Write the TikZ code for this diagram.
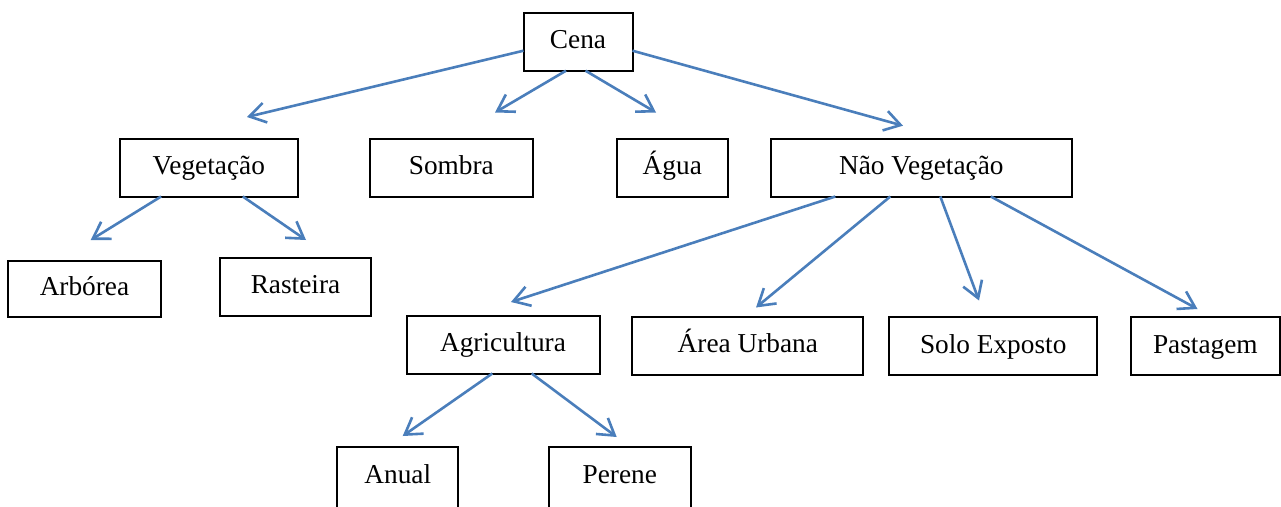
\documentclass[tikz,border=0pt]{standalone}
\usepackage{fontspec}
\setmainfont{Liberation Serif}
\usetikzlibrary{arrows.meta}
\definecolor{arrowblue}{RGB}{74,126,187}
\begin{document}
\begin{tikzpicture}[x=1pt,y=-1pt,
  box/.style={draw=black, line width=2pt, inner sep=0pt, outer sep=0pt, minimum height=58pt,
    text height=20pt, text depth=6pt, font=\fontsize{27.3}{31}\selectfont},
  cutbox/.style={box, minimum height=70pt, text depth=18pt},
  link/.style={draw=arrowblue, line width=2.6pt, -{Straight Barb[length=16pt,width=20pt]}}]
\clip (0,0) rectangle (1281,506);
% nodes
\node[box, minimum width=109pt] (cena) at (578,41.7) {Cena};
\node[box, minimum width=178pt] (veg) at (208.8,167.5) {Vegetação};
\node[box, minimum width=163pt] (sombra) at (451.3,167.5) {Sombra};
\node[box, minimum width=111pt] (agua) at (672.3,167.5) {Água};
\node[box, minimum width=301pt] (nveg) at (921.3,167.5) {Não Vegetação};
\node[box, minimum width=153pt, minimum height=56pt] (arb) at (84.5,288.8) {Arbórea};
\node[box, minimum width=151pt] (ras) at (295.5,286.8) {Rasteira};
\node[box, minimum width=193pt] (agri) at (503,344.5) {Agricultura};
\node[box, minimum width=231pt] (urb) at (747.8,345.7) {Área Urbana};
\node[box, minimum width=208pt] (solo) at (993.2,346) {Solo Exposto};
\node[box, minimum width=149pt] (past) at (1205.3,346) {Pastagem};
\node[cutbox, minimum width=121pt] (anual) at (397.8,482) {Anual};
\node[cutbox, minimum width=142pt] (perene) at (619.8,482) {Perene};
% arrow tips (free ends)
\coordinate (tveg) at (247,117);
\coordinate (tsombra) at (495,112.5);
\coordinate (tagua) at (656,112.5);
\coordinate (tnveg) at (903,125.7);
\coordinate (tarb) at (90.7,240);
\coordinate (tras) at (306,240);
\coordinate (tagri) at (511,302);
\coordinate (turb) at (756,307.5);
\coordinate (tsolo) at (979,300.5);
\coordinate (tpast) at (1197.5,309);
\coordinate (tanual) at (402.7,436);
\coordinate (tperene) at (616.7,437);
% connectors
\draw[link] ([yshift=-9pt]cena.west) -- (tveg);
\draw[link] ([xshift=-12pt]cena.south) -- (tsombra);
\draw[link] ([xshift=7.5pt]cena.south) -- (tagua);
\draw[link] ([yshift=-9pt]cena.east) -- (tnveg);
\draw[link] ([xshift=-47.7pt]veg.south) -- (tarb);
\draw[link] ([xshift=34pt]veg.south) -- (tras);
\draw[link] ([xshift=-86pt]nveg.south) -- (tagri);
\draw[link] ([xshift=-31pt]nveg.south) -- (turb);
\draw[link] ([xshift=19pt]nveg.south) -- (tsolo);
\draw[link] ([xshift=69.5pt]nveg.south) -- (tpast);
\draw[link] ([xshift=-10.7pt]agri.south) -- (tanual);
\draw[link] ([xshift=28.7pt]agri.south) -- (tperene);
\end{tikzpicture}
\end{document}
